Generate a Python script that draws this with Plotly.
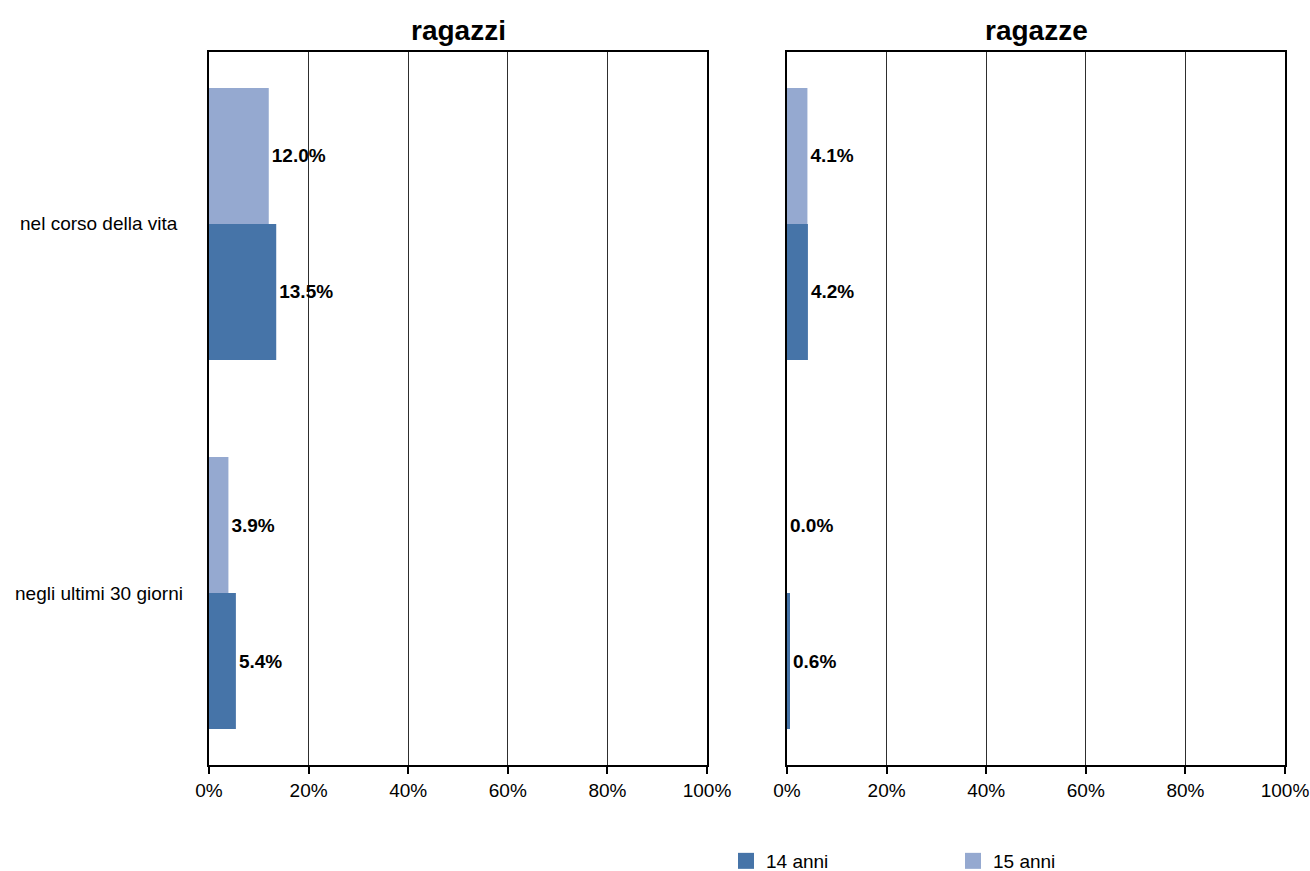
import plotly.graph_objects as go

categories = ["nel corso della vita", "negli ultimi 30 giorni"]
panels = ["ragazzi", "ragazze"]
series_names = ["15 anni", "14 anni"]
ragazzi_15 = [12.0, 3.9]
ragazzi_14 = [13.5, 5.4]
ragazze_15 = [4.1, 0.0]
ragazze_14 = [4.2, 0.6]
x_ticks = [0, 20, 40, 60, 80, 100]
x_tick_labels = ["0%", "20%", "40%", "60%", "80%", "100%"]

colors = {"14 anni": "#4674a8", "15 anni": "#95a9d0"}
data = {
    "ragazzi": {"15 anni": ragazzi_15, "14 anni": ragazzi_14},
    "ragazze": {"15 anni": ragazze_15, "14 anni": ragazze_14},
}

FONT = "Liberation Sans, Arial, sans-serif"
FS = 19
fig = go.Figure()

for i, panel in enumerate(panels):
    xa = "x" if i == 0 else "x2"
    ya = "y" if i == 0 else "y2"
    for name in series_names:
        fig.add_trace(go.Bar(
            y=categories, x=data[panel][name], orientation="h",
            name=name, marker=dict(color=colors[name], line=dict(width=0)),
            texttemplate="%{x:.1f}%", textposition="outside",
            textfont=dict(family=FONT, size=FS, color="black", weight="bold"),
            cliponaxis=False, showlegend=False,
            xaxis=xa, yaxis=ya,
        ))

# legend entries
for name in series_names:
    fig.add_trace(go.Scatter(
        x=[None], y=[None], mode="markers", name=name,
        marker=dict(symbol="square", size=18, color=colors[name]),
        xaxis="x", yaxis="y", showlegend=True,
    ))

W, H = 1310, 871
ml, mt = 209, 52
mr = W - 1285
mb = H - 765
pw = W - ml - mr
ph = H - mt - mb
d1 = [0, (707 - ml) / pw]
d2 = [(787 - ml) / pw, 1]

xcommon = dict(
    range=[0, 100], tickmode="array", tickvals=x_ticks, ticktext=x_tick_labels,
    showline=True, linecolor="black", linewidth=2, mirror=True,
    showgrid=True, gridcolor="#2e2e2e", gridwidth=1,
    ticks="outside", ticklen=7, tickwidth=2, tickcolor="black",
    tickfont=dict(family=FONT, size=FS, color="black"),
    ticklabeloverflow="allow",
    zeroline=False, fixedrange=True,
)
ycommon = dict(
    type="category", categoryorder="array", categoryarray=categories,
    range=[1.466, -0.466],
    showline=True, linecolor="black", linewidth=2, mirror=True,
    showgrid=False, ticks="", zeroline=False, showticklabels=False,
    fixedrange=True,
)

fig.update_layout(
    width=W, height=H,
    margin=dict(l=ml, r=mr, t=mt, b=mb, autoexpand=False),
    paper_bgcolor="white", plot_bgcolor="white",
    barmode="group", bargap=0.263, bargroupgap=0,
    xaxis=dict(domain=d1, anchor="y", **xcommon),
    xaxis2=dict(domain=d2, anchor="y2", **xcommon),
    yaxis=dict(anchor="x", **ycommon),
    yaxis2=dict(anchor="x2", **ycommon),
    showlegend=True,
    legend=dict(
        orientation="h", x=(726 - ml) / pw, xanchor="left",
        y=(765 - 861) / ph, yanchor="middle",
        entrywidth=182, entrywidthmode="pixels",
        font=dict(family=FONT, size=FS, color="black"),
        traceorder="reversed",
    ),
    font=dict(family=FONT, color="black"),
    hovermode=False,
)

# category labels (centred, as in the reference)
for c in categories:
    fig.add_annotation(
        text=c, x=0, xref="paper", y=c, yref="y", xshift=99 - ml,
        xanchor="center", yanchor="middle", showarrow=False,
        font=dict(family=FONT, size=FS, color="black"),
    )

for i, panel in enumerate(panels):
    d = d1 if i == 0 else d2
    fig.add_annotation(
        text="<b>%s</b>" % panel, x=(d[0] + d[1]) / 2, y=1, xref="paper", yref="paper",
        yshift=22, showarrow=False, xanchor="center", yanchor="middle",
        font=dict(family=FONT, size=28, color="black"),
    )

fig.write_html(
    "out.html",
    config={"displayModeBar": False},
    post_script="document.body.style.margin='0';document.body.style.overflow='hidden';",
)
